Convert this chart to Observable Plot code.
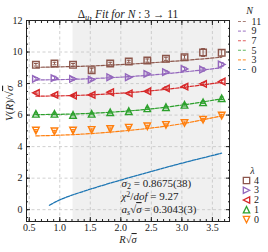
<!DOCTYPE html>
<html><head><meta charset="utf-8">
<script src="https://cdn.jsdelivr.net/npm/d3@7"></script>
<script src="https://cdn.jsdelivr.net/npm/@observablehq/plot@0.6"></script>
<style>
body{margin:0;background:#fff}
#chart svg{font-family:"Liberation Serif","DejaVu Serif",serif;overflow:visible}
</style></head><body><div id="chart"></div>
<script>
// ---------- data ----------
const xPoints = [0.609, 0.913, 1.217, 1.522, 1.826, 2.130, 2.434, 2.739, 3.043, 3.347, 3.652];
const lam4 = [9.19, 9.27, 9.19, 8.85, 9.27, 9.40, 9.46, 9.57, 9.67, 9.97, 9.95];
const err4 = [0.08, 0.08, 0.08, 0.12, 0.08, 0.08, 0.10, 0.10, 0.12, 0.25, 0.20];
const lam3 = [8.30, 8.34, 8.30, 8.25, 8.40, 8.40, 8.61, 8.72, 8.93, 8.89, 9.21];
const err3 = [0.08, 0.12, 0.08, 0.06, 0.06, 0.06, 0.06, 0.08, 0.10, 0.10, 0.12];
const lam2 = [7.41, 7.28, 7.24, 7.28, 7.45, 7.38, 7.51, 7.70, 7.81, 7.98, 8.13];
const err2 = [0.06, 0.06, 0.06, 0.06, 0.06, 0.06, 0.06, 0.08, 0.08, 0.08, 0.08];
const lam1 = [6.08, 6.08, 6.01, 6.08, 6.18, 6.25, 6.43, 6.50, 6.65, 6.81, 7.07];
const err1 = [0.06, 0.06, 0.06, 0.06, 0.06, 0.06, 0.06, 0.06, 0.08, 0.08, 0.08];
const lam0 = [5.02, 4.97, 5.02, 5.06, 5.12, 5.20, 5.29, 5.38, 5.50, 5.71, 5.97];
const err0 = [0.06, 0.06, 0.06, 0.06, 0.06, 0.06, 0.06, 0.06, 0.06, 0.08, 0.08];

const fitX = [0.609, 1.217, 1.826, 2.434, 3.043, 3.652];
const fit11 = [9.03, 9.08, 9.17, 9.30, 9.47, 9.67];
const fit9  = [8.23, 8.27, 8.37, 8.52, 8.74, 9.00];
const fit7  = [7.20, 7.24, 7.35, 7.52, 7.77, 8.08];
const fit5  = [6.03, 6.07, 6.18, 6.37, 6.66, 7.03];
const fit3  = [4.68, 4.76, 4.92, 5.15, 5.48, 5.95];
const fit0X = [0.83, 1.0, 1.2, 1.5, 2.0, 2.5, 3.0, 3.65];
const fit0  = [0.28, 0.62, 0.92, 1.30, 1.88, 2.42, 2.95, 3.58];

const shadeRange = [1.217, 3.652];
const xMajor = [0.5, 1.0, 1.5, 2.0, 2.5, 3.0, 3.5];
const yMajor = [0, 2, 4, 6, 8, 10, 12];
const xMinor = d3.range(5, 38).map(d => d / 10);
const yMinor = d3.range(-1, 25).map(d => d / 2).filter(d => d >= -0.75);

const legendN = ["11", "9", "7", "5", "3", "0"];
const legendLam = ["4", "3", "2", "1", "0"];
const titleText = "Δu, Fit for N : 3 → 11";
const statLines = ["σ2 = 0.8675(38)", "χ2/dof = 9.27", "as√σ = 0.3043(3)"];
const yLabel = "V(R)/√σ";
const xLabel = "R√σ";

// ---------- styles ----------
const C = {brown:"#8c564b", purple:"#9467bd", red:"#d62728", green:"#2ca02c", orange:"#ff7f0e", blue:"#1f77b4"};
const nColors = [C.brown, C.purple, C.red, C.green, C.orange, C.blue];
const mk = pts => ({draw(ctx, size){const h = Math.sqrt(size)/2; pts.forEach(([px,py],i)=> i ? ctx.lineTo(px*h,py*h) : ctx.moveTo(px*h,py*h)); ctx.closePath();}});
const square = mk([[-1,-1],[1,-1],[1,1],[-1,1]]);
const triUp = mk([[0,-1],[-1,1],[1,1]]);
const triDown = mk([[0,1],[-1,-1],[1,-1]]);
const triLeft = mk([[-1,0],[1,-1],[1,1]]);
const triRight = mk([[1,0],[-1,-1],[-1,1]]);
const capSym = {draw(ctx, size){const h = Math.sqrt(size)/2; ctx.moveTo(-h,0); ctx.lineTo(h,0);}};
const dashSym = {draw(ctx){ctx.moveTo(-4,0); ctx.lineTo(4,0);}};

const series = [
  {vals: lam4, err: err4, color: C.brown, sym: square},
  {vals: lam3, err: err3, color: C.purple, sym: triRight},
  {vals: lam2, err: err2, color: C.red, sym: triLeft},
  {vals: lam1, err: err1, color: C.green, sym: triUp},
  {vals: lam0, err: err0, color: C.orange, sym: triDown}
];
const fits = [fit11, fit9, fit7, fit5, fit3];

const marks = [];
marks.push(Plot.rect([shadeRange], {x1: d => d[0], x2: d => d[1], fill: "#f0f0f0"}));
marks.push(Plot.gridX({ticks: xMajor, stroke: "#c4c4c4", strokeOpacity: 1, strokeWidth: 0.8, strokeDasharray: "3,2.5"}));
marks.push(Plot.gridY({ticks: yMajor, stroke: "#c4c4c4", strokeOpacity: 1, strokeWidth: 0.8, strokeDasharray: "3,2.5"}));
marks.push(Plot.line(fit0X.map((x,i)=>[x, fit0[i]]), {x: d=>d[0], y: d=>d[1], stroke: C.blue, strokeWidth: 1.3, strokeDasharray: "3.5,1.2", curve: "natural"}));
fits.forEach((f, k) => marks.push(Plot.line(fitX.map((x,i)=>[x, f[i]]), {x: d=>d[0], y: d=>d[1], stroke: nColors[k], strokeWidth: 1.2, strokeDasharray: "3.5,1.5", curve: "natural"})));
series.forEach(s => {
  const pts = xPoints.map((x,i) => ({x, y: s.vals[i], e: s.err[i]}));
  marks.push(Plot.ruleX(pts, {x: "x", y1: d => d.y - d.e, y2: d => d.y + d.e, stroke: s.color, strokeWidth: 1}));
  marks.push(Plot.dot(pts, {x: "x", y: d => d.y - d.e, symbol: capSym, r: 2.2, stroke: s.color, strokeWidth: 1}));
  marks.push(Plot.dot(pts, {x: "x", y: d => d.y + d.e, symbol: capSym, r: 2.2, stroke: s.color, strokeWidth: 1}));
  marks.push(Plot.dot(pts, {x: "x", y: "y", symbol: s.sym, r: 3.7, stroke: s.color, fill: "none", strokeWidth: 1.4}));
});
marks.push(Plot.frame({stroke: "#222", strokeWidth: 1}));
// axes (inward ticks, mirrored)
marks.push(Plot.axisX({ticks: xMajor, tickSize: 0, tickPadding: 2, tickFormat: d3.format(".1f"), fontSize: 10, label: null}));
marks.push(Plot.axisX({ticks: xMajor, tickSize: -4, text: null, label: null, stroke: "#222"}));
marks.push(Plot.axisX({ticks: xMinor, tickSize: -2, text: null, label: null, stroke: "#222"}));
marks.push(Plot.axisX({anchor: "top", ticks: xMajor, tickSize: -4, text: null, label: null, stroke: "#222"}));
marks.push(Plot.axisX({anchor: "top", ticks: xMinor, tickSize: -2, text: null, label: null, stroke: "#222"}));
marks.push(Plot.axisY({ticks: yMajor, tickSize: 0, tickPadding: 4, fontSize: 10, label: null}));
marks.push(Plot.axisY({ticks: yMajor, tickSize: -4, text: null, label: null, stroke: "#222"}));
marks.push(Plot.axisY({ticks: yMinor, tickSize: -2, text: null, label: null, stroke: "#222"}));
marks.push(Plot.axisY({anchor: "right", ticks: yMajor, tickSize: -4, text: null, label: null, stroke: "#222"}));
marks.push(Plot.axisY({anchor: "right", ticks: yMinor, tickSize: -2, text: null, label: null, stroke: "#222"}));
// labels
marks.push(Plot.text([titleText], {frameAnchor: "top", dy: -11, fontSize: 11.5, fill: "#222"}));
marks.push(Plot.text([xLabel], {frameAnchor: "bottom", dy: 21.5, fontSize: 10.5, fill: "#222"}));
marks.push(Plot.text([yLabel], {frameAnchor: "left", dx: -17, rotate: -90, fontSize: 11, fill: "#222"}));
statLines.forEach((t, i) => marks.push(Plot.text([t], {frameAnchor: "bottom-left", dx: 95, dy: -38 + i*13, textAnchor: "start", lineAnchor: "middle", fontSize: 11, fill: "#222"})));
// legend N
marks.push(Plot.text(["N"], {frameAnchor: "top-right", dx: 20, dy: -10, textAnchor: "middle", lineAnchor: "middle", fontSize: 10, fill: "#222"}));
legendN.forEach((t, i) => {
  marks.push(Plot.dot([0], {frameAnchor: "top-right", dx: 12.5, dy: 1 + i*9.6, symbol: dashSym, stroke: nColors[i], strokeWidth: 1.1, strokeDasharray: "3,1.8", strokeOpacity: 0.75}));
  marks.push(Plot.text([t], {frameAnchor: "top-right", dx: 22, dy: 1 + i*9.6, textAnchor: "start", lineAnchor: "middle", fontSize: 10, fill: "#222"}));
});
// legend lambda
marks.push(Plot.text(["λ"], {frameAnchor: "top-right", dx: 23, dy: 150, textAnchor: "middle", lineAnchor: "middle", fontSize: 10, fill: "#222"}));
legendLam.forEach((t, i) => {
  marks.push(Plot.dot([0], {frameAnchor: "top-right", dx: 17, dy: 160 + i*9.75, symbol: series[i].sym, r: 3.6, stroke: series[i].color, fill: "white", strokeWidth: 1.3}));
  marks.push(Plot.text([t], {frameAnchor: "top-right", dx: 24.5, dy: 160 + i*9.75, textAnchor: "start", lineAnchor: "middle", fontSize: 10, fill: "#222"}));
});

const svg = Plot.plot({
  width: 268, height: 252,
  marginLeft: 26, marginRight: 39, marginTop: 20, marginBottom: 31,
  x: {domain: [0.455, 3.78]},
  y: {domain: [-0.75, 12]},
  style: {fontFamily: '"Liberation Serif","DejaVu Serif",serif', fontSize: "10px", color: "#222", background: "white"},
  marks
});
document.getElementById("chart").append(svg);

// rich-text formatting for math-like labels
const it = s => `<tspan font-style="italic">${s}</tspan>`;
const sqrtSigma = `√<tspan font-style="italic" text-decoration="overline">σ</tspan>`;
const rich = {
  [titleText]: `Δ<tspan font-style="italic" font-size="8.5" dy="2">u</tspan><tspan dy="-2">, </tspan>${it("Fit for N")} : 3 → 11`,
  [statLines[0]]: `${it("σ")}<tspan font-size="8" dy="2">2</tspan><tspan dy="-2"> = 0.8675(38)</tspan>`,
  [statLines[1]]: `${it("χ")}<tspan font-size="8" dy="-3.5">2</tspan><tspan dy="3.5">/</tspan>${it("dof")} = 9.27`,
  [statLines[2]]: `${it("a")}<tspan font-style="italic" font-size="8" dy="2">s</tspan><tspan dy="-2">${sqrtSigma}</tspan> = 0.3043(3)`,
  [yLabel]: `${it("V")}(${it("R")})/${sqrtSigma}`,
  [xLabel]: `${it("R")}${sqrtSigma}`,
  "N": it("N"),
  "λ": it("λ")
};
svg.querySelectorAll("text").forEach(el => {
  if (el.closest("[aria-label*='tick']")) return;
  let k = el.textContent;
  if (rich[k] !== undefined && el.children.length <= 1) el.innerHTML = rich[k];
});
</script></body></html>
